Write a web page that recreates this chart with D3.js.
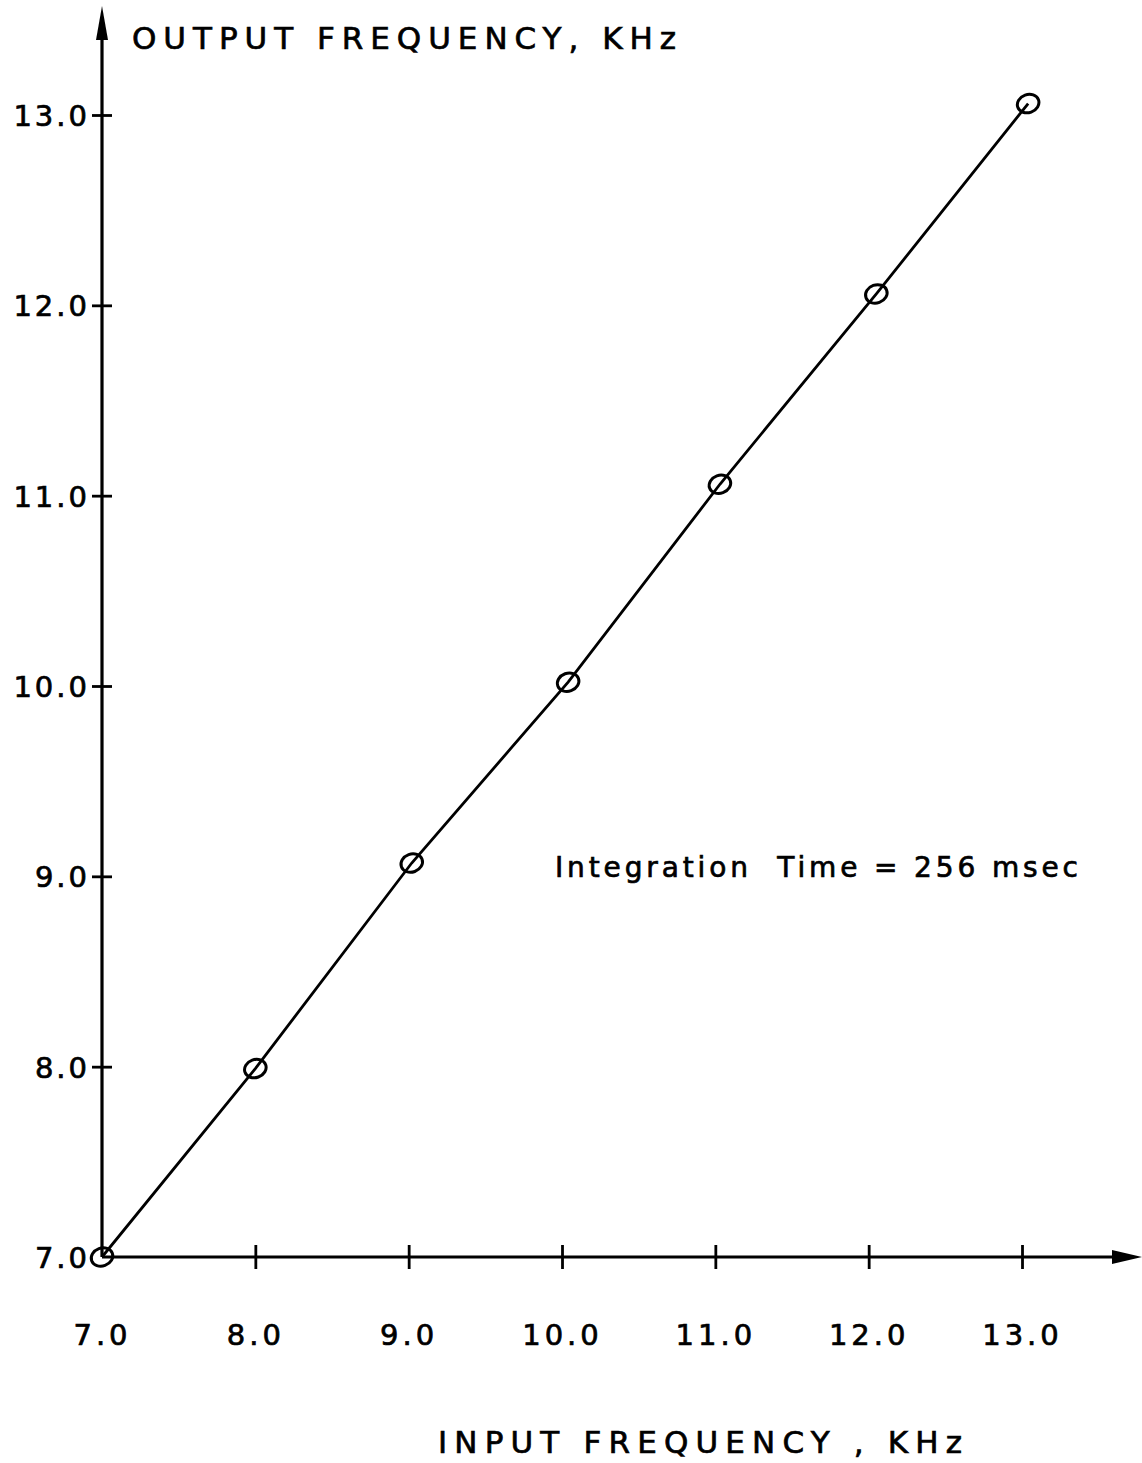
<!DOCTYPE html>
<html>
<head>
<meta charset="utf-8">
<script src="https://cdn.jsdelivr.net/npm/d3@7"></script>
<style>
  html, body { margin: 0; padding: 0; background: #fff; }
  svg { display: block; }
  text { font-family: "DejaVu Sans", "Liberation Sans", sans-serif; fill: #000; stroke: #000; stroke-width: 0.7px; }
</style>
</head>
<body>
<svg id="chart" width="1142" height="1463"></svg>
<script>
// Measured input vs. output frequency (kHz), integration time 256 msec
const inputFreq  = [7.0, 8.0, 9.02, 10.04, 11.03, 12.05, 13.04];
const outputFreq = [7.0, 7.99, 9.07, 10.02, 11.06, 12.06, 13.06];

const xTicks = [7, 8, 9, 10, 11, 12, 13];
const yTicks = [7, 8, 9, 10, 11, 12, 13];
const xTickLabels = ["7.0", "8.0", "9.0", "10.0", "11.0", "12.0", "13.0"];
const yTickLabels = ["7.0", "8.0", "9.0", "10.0", "11.0", "12.0", "13.0"];

const svg = d3.select("#chart");
const ink = "#000";

const x = d3.scaleLinear().domain([7, 13]).range([102, 1022]);
const y = d3.scaleLinear().domain([7, 13]).range([1257, 115]);

const ox = x(7), oy = y(7);

// Axes lines with arrowheads
svg.append("line").attr("x1", ox).attr("y1", oy).attr("x2", ox).attr("y2", 20)
  .attr("stroke", ink).attr("stroke-width", 3.2);
svg.append("path").attr("d", `M${ox},6 L${ox - 6},40 L${ox + 6},40 Z`).attr("fill", ink);

svg.append("line").attr("x1", ox).attr("y1", oy).attr("x2", 1125).attr("y2", oy)
  .attr("stroke", ink).attr("stroke-width", 3.2);
svg.append("path").attr("d", `M1142,${oy} L1112,${oy - 7} L1112,${oy + 7} Z`).attr("fill", ink);

// X axis ticks and labels
const xAxis = d3.axisBottom(x).tickValues(xTicks).tickSize(0)
  .tickFormat((d, i) => xTickLabels[i]);
const gx = svg.append("g").attr("transform", `translate(0,${oy})`).call(xAxis);
gx.select(".domain").remove();
gx.selectAll(".tick line").filter(d => d !== 7)
  .attr("y1", -12).attr("y2", 12).attr("stroke", ink).attr("stroke-width", 2.8);
gx.selectAll(".tick text")
  .attr("y", 88).attr("dy", null)
  .style("font-size", "29px").style("letter-spacing", "4px")
  .attr("text-anchor", "middle");

// Y axis ticks and labels
const yAxis = d3.axisLeft(y).tickValues(yTicks).tickSize(0)
  .tickFormat((d, i) => yTickLabels[i]);
const gy = svg.append("g").attr("transform", `translate(${ox},0)`).call(yAxis);
gy.select(".domain").remove();
gy.selectAll(".tick line").filter(d => d !== 7)
  .attr("x1", -10).attr("x2", 10).attr("stroke", ink).attr("stroke-width", 2.8);
gy.selectAll(".tick text")
  .attr("x", -12).attr("dy", "0.36em")
  .style("font-size", "29px").style("letter-spacing", "3px")
  .attr("text-anchor", "end");

// Data line
const pts = inputFreq.map((v, i) => [v, outputFreq[i]]);
svg.append("path")
  .datum(pts)
  .attr("d", d3.line().x(d => x(d[0])).y(d => y(d[1])))
  .attr("fill", "none").attr("stroke", ink).attr("stroke-width", 2.8);

// Data point markers (open ellipses)
svg.append("g").selectAll("ellipse").data(pts).join("ellipse")
  .attr("cx", d => x(d[0])).attr("cy", d => y(d[1]))
  .attr("rx", 11).attr("ry", 9)
  .attr("transform", d => `rotate(-20,${x(d[0])},${y(d[1])})`)
  .attr("fill", "none").attr("stroke", ink).attr("stroke-width", 3);

// Axis titles
svg.append("text").attr("x", 132).attr("y", 49)
  .attr("textLength", 544).attr("lengthAdjust", "spacing")
  .style("font-size", "31px")
  .text("OUTPUT FREQUENCY, KHz");

svg.append("text").attr("x", 438).attr("y", 1453)
  .attr("textLength", 524).attr("lengthAdjust", "spacing")
  .style("font-size", "31px")
  .text("INPUT FREQUENCY , KHz");

// Annotation
svg.append("text").attr("x", 555).attr("y", 877)
  .attr("textLength", 523).attr("lengthAdjust", "spacing")
  .style("font-size", "28px").style("white-space", "pre")
  .attr("xml:space", "preserve")
  .text("Integration  Time = 256 msec");
</script>
</body>
</html>
